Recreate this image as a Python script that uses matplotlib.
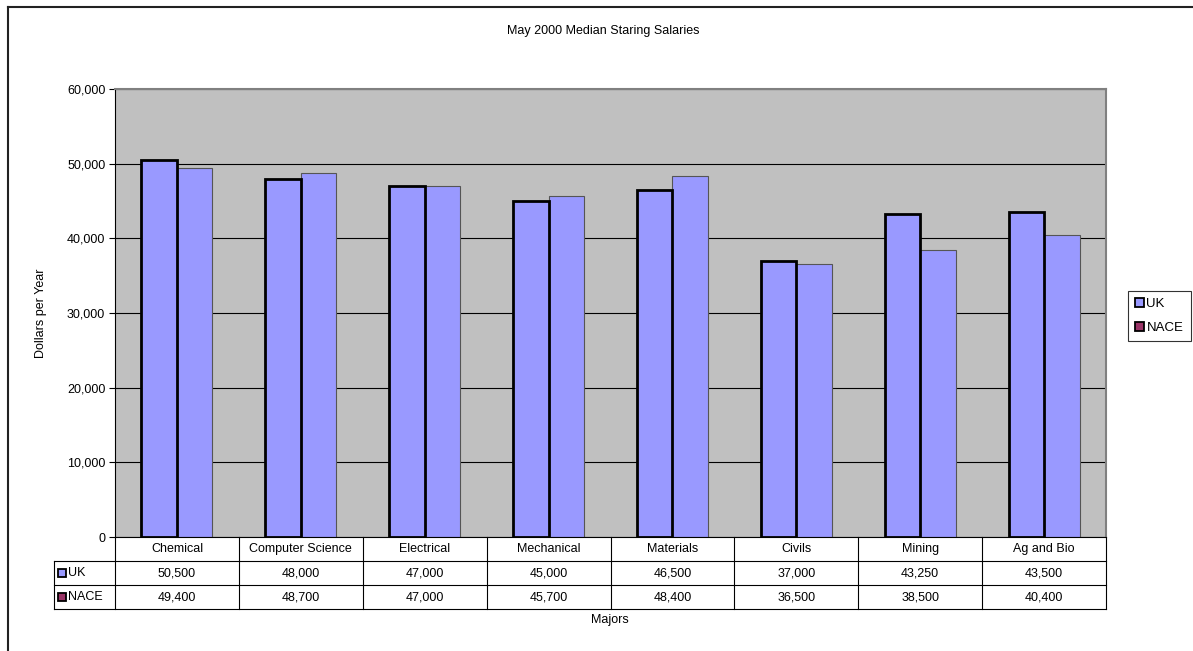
import numpy as np
import matplotlib
matplotlib.use("Agg")
import matplotlib.pyplot as plt
from matplotlib.patches import Patch, Rectangle
from matplotlib.lines import Line2D
import matplotlib.transforms as mtransforms
from matplotlib.ticker import FuncFormatter

plt.rcParams['font.family'] = ['Liberation Sans', 'DejaVu Sans']

majors = ["Chemical", "Computer Science", "Electrical", "Mechanical",
          "Materials", "Civils", "Mining", "Ag and Bio"]
uk = [50500, 48000, 47000, 45000, 46500, 37000, 43250, 43500]
nace = [49400, 48700, 47000, 45700, 48400, 36500, 38500, 40400]
series_names = ["UK", "NACE"]
yticks = [0, 10000, 20000, 30000, 40000, 50000, 60000]

bar_fill = "#9999FF"
key_colors = ["#9999FF", "#993366"]
fs = 9

W, H = 1193, 651
fig = plt.figure(figsize=(W / 100, H / 100), dpi=100)

# outer chart border (top and left only visible)
fig.add_artist(Line2D([8 / W, 8 / W], [0, 1 - 7 / H], transform=fig.transFigure,
                      color="#222222", lw=1.5))
fig.add_artist(Line2D([8 / W, 1], [1 - 7 / H, 1 - 7 / H], transform=fig.transFigure,
                      color="#222222", lw=1.5))

left, right, top, bottom = 115, 1106, 89, 537
ax = fig.add_axes([left / W, 1 - bottom / H, (right - left) / W, (bottom - top) / H])
ax.set_facecolor("#C0C0C0")

x = np.arange(len(majors))
bw = 0.287
ax.bar(x - bw / 2, uk, width=bw, color=bar_fill, edgecolor="black", linewidth=2.0, zorder=3)
ax.bar(x + bw / 2, nace, width=bw, color=bar_fill, edgecolor="#555555", linewidth=0.8, zorder=2)

ax.set_xlim(-0.5, len(majors) - 0.5)
ax.set_ylim(0, 60000)
ax.set_yticks(yticks)
ax.yaxis.set_major_formatter(FuncFormatter(lambda v, p: f"{int(v):,}"))
ax.tick_params(axis='y', labelsize=fs, length=4, width=0.8, direction='out', pad=3)
ax.set_xticks([])
ax.grid(axis='y', color='black', linewidth=0.8, zorder=1)
ax.set_axisbelow(True)
for s in ["top", "right"]:
    ax.spines[s].set_color("#808080")
    ax.spines[s].set_linewidth(1.5)
ax.spines["left"].set_color("black")
ax.spines["bottom"].set_color("black")

ax.set_ylabel("Dollars per Year", fontsize=fs)
ax.yaxis.set_label_coords((47 - left) / (right - left), 0.5)
fig.text(603 / W, 1 - 31 / H, "May 2000 Median Staring Salaries", fontsize=fs,
         ha="center", va="center")
fig.text(610 / W, 1 - 620 / H, "Majors", fontsize=fs, ha="center", va="center")

# data table below the axes
trans = mtransforms.blended_transform_factory(ax.transData, ax.transAxes)
row_h = 24 / (bottom - top)
label_x0 = -0.5 - (left - 54) / ((right - left) / len(majors))
lc = "black"
lw = 0.8
ys = [0, -row_h, -2 * row_h, -3 * row_h]
for i in range(len(majors) + 1):
    xb = i - 0.5
    ax.add_line(Line2D([xb, xb], [ys[0], ys[3]], transform=trans, color=lc, lw=lw,
                       clip_on=False))
for yb in ys[1:]:
    ax.add_line(Line2D([label_x0, len(majors) - 0.5], [yb, yb], transform=trans,
                       color=lc, lw=lw, clip_on=False))
ax.add_line(Line2D([label_x0, label_x0], [ys[1], ys[3]], transform=trans, color=lc,
                   lw=lw, clip_on=False))

for i, m in enumerate(majors):
    ax.text(i, (ys[0] + ys[1]) / 2, m, transform=trans, ha="center", va="center",
            fontsize=fs)
    ax.text(i, (ys[1] + ys[2]) / 2, f"{uk[i]:,}", transform=trans, ha="center",
            va="center", fontsize=fs)
    ax.text(i, (ys[2] + ys[3]) / 2, f"{nace[i]:,}", transform=trans, ha="center",
            va="center", fontsize=fs)

cat_px = (right - left) / len(majors)
key_px = 8
for r, (name, kc) in enumerate(zip(series_names, key_colors)):
    yc = (ys[r + 1] + ys[r + 2]) / 2
    ax.add_patch(Rectangle((label_x0 + 4 / cat_px, yc - key_px / 2 / (bottom - top)),
                           key_px / cat_px, key_px / (bottom - top), transform=trans,
                           facecolor=kc, edgecolor="black", lw=1.3, clip_on=False))
    ax.text(label_x0 + 14 / cat_px, yc, name, transform=trans, ha="left", va="center",
            fontsize=fs)

# legend on the right
handles = [Patch(facecolor=c, edgecolor="black", linewidth=1.3) for c in key_colors]
leg = fig.legend(handles, series_names, loc="upper left",
                 bbox_to_anchor=(1128 / W, 1 - 291 / H), fontsize=9.5,
                 frameon=True, fancybox=False, handlelength=0.7, handleheight=0.7,
                 handletextpad=0.15, borderpad=0.55, labelspacing=0.85,
                 borderaxespad=0)
leg.get_frame().set_edgecolor("black")
leg.get_frame().set_linewidth(0.8)

fig.savefig("out.png", dpi=100)
